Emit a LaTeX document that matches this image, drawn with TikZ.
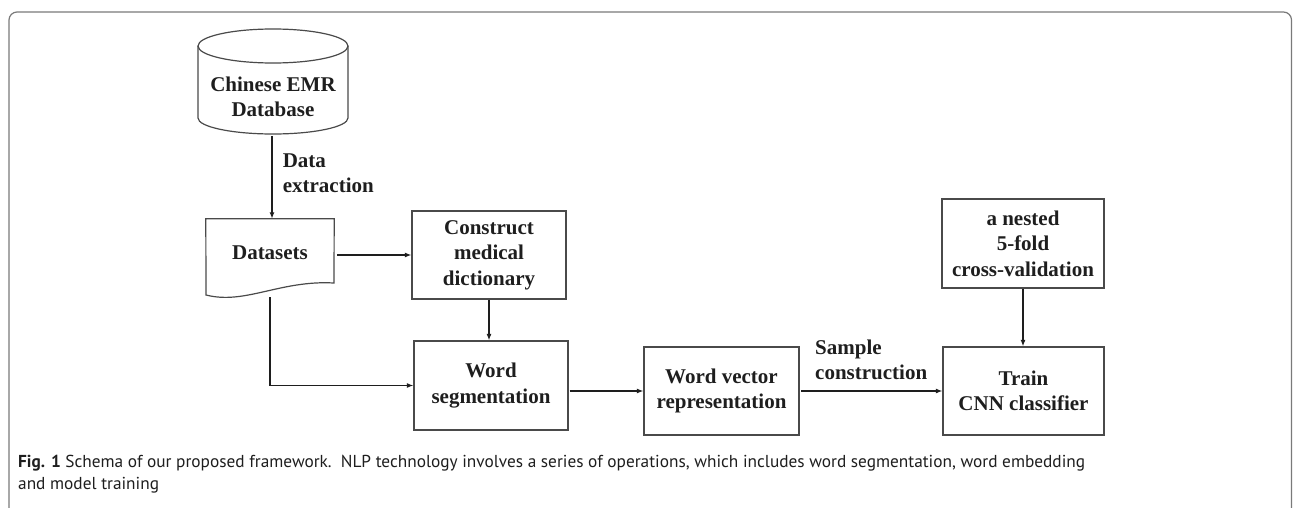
\documentclass[tikz,border=0pt]{standalone}
\usepackage{fontspec}
\setmainfont{Liberation Serif}
\newfontfamily\capfont{PT Sans}
\usetikzlibrary{arrows.meta}
\definecolor{framegray}{HTML}{7A7A7A}
\definecolor{boxgray}{HTML}{4A4A4A}
\definecolor{inkc}{HTML}{1E1E1E}
\tikzset{
  stagebox/.style={draw=boxgray, line width=1.2pt, align=center, inner sep=0pt,
    text=inkc, font=\fontsize{21}{25.5}\selectfont\bfseries},
  plain/.style={align=center, inner sep=0pt, text=inkc,
    font=\fontsize{21}{25.5}\selectfont\bfseries},
  flow/.style={draw=inkc, line width=1.6pt, -{Latex[length=6.5pt,width=5pt]}},
  lab/.style={align=left, inner sep=0pt, text=inkc,
    font=\fontsize{21}{25.5}\selectfont\bfseries},
}
\begin{document}
\begin{tikzpicture}[x=1pt, y=-1pt]
\useasboundingbox (0,0) rectangle (1293,508);

% outer frame, open at the bottom
\draw[framegray, line width=1.2pt, rounded corners=8pt]
  (9,530) -- (9,12) -- (1291.5,12) -- (1291.5,530);

% database cylinder
\node[plain, minimum width=150pt, minimum height=60pt] (db) at (273,97) {Chinese EMR\\Database};
\draw[boxgray, line width=1.2pt] (273,46) ellipse (75 and 17);
\draw[boxgray, line width=1.2pt] (198,46) -- (198,118)
  .. controls (198,126.8) and (231.6,134) .. (273,134)
  .. controls (314.4,134) and (348,126.8) .. (348,118) -- (348,46);
\coordinate (dbb) at (272,136);

% document shape for the datasets
\node[plain, minimum width=128pt, minimum height=68pt] (ds) at (270,253) {Datasets};
\draw[boxgray, line width=1.2pt] (ds.north west) -- (ds.north east) -- (334,283)
  .. controls (280,280) and (245,305) .. (206,295) -- cycle;
\coordinate (dsb) at (270,297);

% processing stages
\node[stagebox, minimum width=154pt, minimum height=88pt] (cmd) at (489,255) {Construct\\medical\\dictionary};
\node[stagebox, minimum width=154pt, minimum height=89pt] (ws) at (491,385.5) {Word\\segmentation};
\node[stagebox, minimum width=155pt, minimum height=88pt] (wv) at (721.5,391) {Word vector\\representation};
\node[stagebox, minimum width=161pt, minimum height=88pt] (tr) at (1023.5,391) {Train\\CNN classifier};
\node[stagebox, minimum width=162pt, minimum height=89pt] (nst) at (1023,243.5) {a nested\\5-fold\\cross-validation};

% connectors
\draw[flow] (dbb) -- (dbb |- ds.north)
  node[lab, anchor=west, pos=0.45, xshift=10pt] (dex) {Data\\extraction};
\draw[flow, shorten <=3pt] (ds.east |- cmd.west) -- (cmd.west);
\draw[flow] (cmd.south) -- (cmd.south |- ws.north);
\draw[flow] (dsb) |- (ws.west);
\draw[flow, shorten <=1pt] (ws.east |- wv.west) -- (wv.west);
\draw[flow, shorten <=1.5pt] (wv.east) -- (tr.west);
\node[lab, anchor=west] (sc) at (815,360) {Sample\\construction};
\draw[flow] (nst.south) -- (nst.south |- tr.north);

% caption
\node[anchor=north west, align=left, inner sep=0pt, text=inkc,
  font=\capfont\fontsize{17.3}{21.5}\selectfont] (cap) at (18,455)
  {\textbf{Fig. 1} Schema of our proposed framework.\ \ NLP technology involves a series of operations, which includes word segmentation, word embedding\\and model training};
\end{tikzpicture}
\end{document}
